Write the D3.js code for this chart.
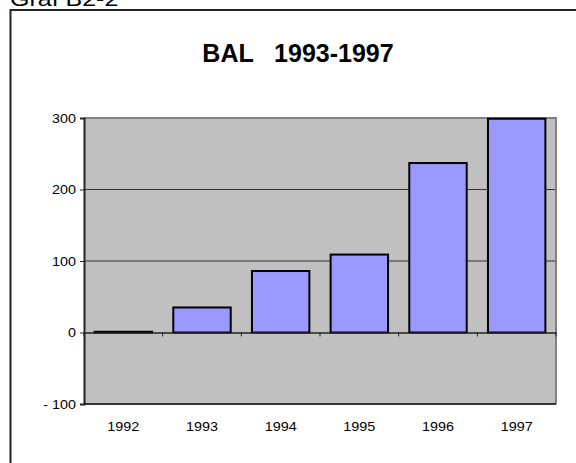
<!DOCTYPE html>
<html>
<head>
<meta charset="utf-8">
<script src="https://cdn.jsdelivr.net/npm/d3@7"></script>
<style>
  body { margin: 0; background: #fff; }
  svg { display: block; font-family: Arial, "Liberation Sans", sans-serif; }
</style>
</head>
<body>
<div id="chart"></div>
<script>
// chart data
const years = ["1992", "1993", "1994", "1995", "1996", "1997"];
const balValues = [1, 35, 86, 109, 237, 299];
const yTicks = [-100, 0, 100, 200, 300];
const chartTitle = "BAL   1993-1997";
const pageLabel = "Graf B2-2";

const width = 576, height = 463;
const margin = { top: 118, right: 20, bottom: 59, left: 84 };

const svg = d3.select("#chart").append("svg")
    .attr("width", width)
    .attr("height", height)
    .attr("viewBox", [0, 0, width, height]);

// page label, cut off at the top like the scan
svg.append("text")
    .attr("x", 8)
    .attr("y", 6)
    .attr("font-size", 20)
    .attr("transform", "scale(1.25,1)")
    .attr("fill", "#000")
    .text(pageLabel);

// outer frame (runs off the right and bottom edges)
svg.append("path")
    .attr("d", `M${width + 5},10H10.5V${height + 5}`)
    .attr("fill", "none")
    .attr("stroke", "#222")
    .attr("stroke-width", 2);

svg.append("text")
    .attr("x", 298)
    .attr("y", 62)
    .attr("text-anchor", "middle")
    .attr("font-size", 25)
    .attr("font-weight", "bold")
    .style("white-space", "pre")
    .text(chartTitle);

const x = d3.scaleBand(years, [margin.left, width - margin.right])
    .paddingInner(0.27)
    .paddingOuter(0.135);
const xCat = d3.scaleBand(years, [margin.left, width - margin.right]);
const y = d3.scaleLinear([-100, 300], [height - margin.bottom, margin.top]);

const plotW = width - margin.right - margin.left;
const plotH = y(-100) - y(300);

// plot area
svg.append("rect")
    .attr("x", margin.left)
    .attr("y", y(300))
    .attr("width", plotW)
    .attr("height", plotH)
    .attr("fill", "#c0c0c0");

// gridlines
svg.append("g")
    .selectAll("line")
    .data([100, 200])
    .join("line")
    .attr("x1", margin.left)
    .attr("x2", width - margin.right)
    .attr("y1", d => y(d))
    .attr("y2", d => y(d))
    .attr("stroke", "#333")
    .attr("stroke-width", 1);

// plot border: top and right grey
svg.append("path")
    .attr("d", `M${margin.left},${y(300)}H${width - margin.right}V${y(-100)}`)
    .attr("fill", "none")
    .attr("stroke", "#808080")
    .attr("stroke-width", 2);

// bars
svg.append("g")
    .selectAll("rect")
    .data(balValues)
    .join("rect")
    .attr("x", (d, i) => x(years[i]))
    .attr("y", d => y(Math.max(0, d)))
    .attr("width", x.bandwidth())
    .attr("height", d => Math.abs(y(d) - y(0)))
    .attr("fill", "#9999ff")
    .attr("stroke", "#000")
    .attr("stroke-width", 2);

// bottom line at -100
svg.append("line")
    .attr("x1", margin.left)
    .attr("x2", width - margin.right)
    .attr("y1", y(-100))
    .attr("y2", y(-100))
    .attr("stroke", "#333")
    .attr("stroke-width", 2);

// value axis
const yAxis = d3.axisLeft(y)
    .tickValues(yTicks)
    .tickSize(4)
    .tickPadding(3)
    .tickFormat(d => d < 0 ? "- " + Math.abs(d) : d);

svg.append("g")
    .attr("transform", `translate(${margin.left},0)`)
    .call(yAxis)
    .call(g => g.select(".domain").attr("stroke", "#222").attr("stroke-width", 2))
    .call(g => g.selectAll(".tick line").attr("stroke", "#222"))
    .call(g => g.selectAll(".tick text")
        .attr("font-size", 12.5)
        .attr("fill", "#000")
        .attr("transform", "scale(1.15,1)")
        .style("white-space", "pre"));

// category axis at zero
const xAxis = d3.axisBottom(xCat).tickSize(0).tickPadding(0);
svg.append("g")
    .attr("transform", `translate(0,${y(0)})`)
    .call(xAxis)
    .call(g => g.select(".domain").attr("stroke", "#222").attr("stroke-width", 1.5))
    .call(g => g.selectAll(".tick text")
        .attr("y", y(-100) - y(0) + 18)
        .attr("dy", "0.71em")
        .attr("font-size", 12.5)
        .attr("fill", "#000")
        .attr("transform", "scale(1.15,1)"));

// category tick marks at the band boundaries
const bounds = years.map(d => xCat(d)).concat([width - margin.right]);
svg.append("g")
    .selectAll("line")
    .data(bounds)
    .join("line")
    .attr("x1", d => d)
    .attr("x2", d => d)
    .attr("y1", y(0))
    .attr("y2", y(0) + 4)
    .attr("stroke", "#222");
</script>
</body>
</html>
